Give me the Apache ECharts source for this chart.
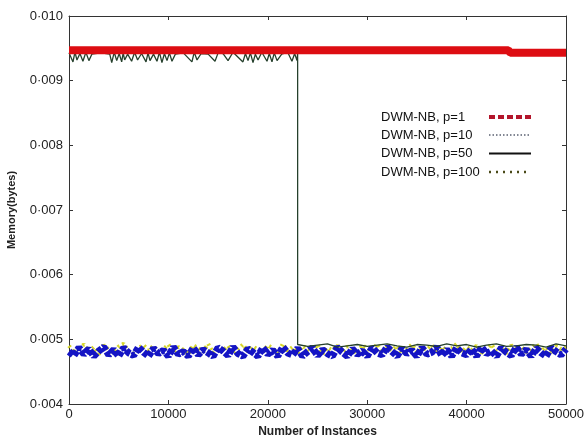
<!DOCTYPE html>
<html>
<head>
<meta charset="utf-8">
<script src="https://cdn.jsdelivr.net/npm/echarts@6/dist/echarts.min.js"></script>
<style>
  html, body { margin: 0; padding: 0; background: #fff; }
  #chart { width: 584px; height: 439px; }
</style>
</head>
<body>
<div id="chart"></div>
<script>
// Memory usage of DWM-NB for several values of p
const seriesNames = ['DWM-NB, p=1', 'DWM-NB, p=10', 'DWM-NB, p=50', 'DWM-NB, p=100'];
const xTicks = [0, 10000, 20000, 30000, 40000, 50000];
const yTicks = [0.004, 0.005, 0.006, 0.007, 0.008, 0.009, 0.010];

// p=1
const p1X = [0, 44200, 44400, 50000];
const p1Y = [0.00947, 0.00947, 0.00943, 0.00943];

// shared sample positions for p=10 and p=100
const gridX = [0,500,1000,1500,2000,2500,3000,3500,4000,4500,
  5000,5500,6000,6500,7000,7500,8000,8500,9000,9500,
  10000,10500,11000,11500,12000,12500,13000,13500,14000,14500,
  15000,15500,16000,16500,17000,17500,18000,18500,19000,19500,
  20000,20500,21000,21500,22000,22500,23000,23500,24000,24500,
  25000,25500,26000,26500,27000,27500,28000,28500,29000,29500,
  30000,30500,31000,31500,32000,32500,33000,33500,34000,34500,
  35000,35500,36000,36500,37000,37500,38000,38500,39000,39500,
  40000,40500,41000,41500,42000,42500,43000,43500,44000,44500,
  45000,45500,46000,46500,47000,47500,48000,48500,49000,49500,
  50000];

// p=10
const p10Y = [0.00481,0.00475,0.00487,0.00477,0.00485,0.00474,0.00482,0.00488,0.00476,0.00484,
  0.00474,0.00487,0.00479,0.00475,0.00488,0.00480,0.00474,0.00486,0.00478,0.00483,
  0.00474,0.00488,0.00477,0.00481,0.00474,0.00487,0.00476,0.00484,0.00479,0.00474,
  0.00487,0.00482,0.00475,0.00488,0.00478,0.00474,0.00485,0.00480,0.00474,0.00487,
  0.00477,0.00483,0.00474,0.00488,0.00479,0.00476,0.00486,0.00474,0.00481,0.00487,
  0.00475,0.00484,0.00478,0.00474,0.00488,0.00480,0.00474,0.00485,0.00477,0.00482,
  0.00474,0.00487,0.00479,0.00476,0.00488,0.00481,0.00474,0.00486,0.00478,0.00483,
  0.00474,0.00487,0.00477,0.00480,0.00488,0.00475,0.00484,0.00474,0.00487,0.00479,
  0.00476,0.00485,0.00474,0.00488,0.00478,0.00482,0.00474,0.00487,0.00480,0.00475,
  0.00488,0.00477,0.00484,0.00474,0.00486,0.00479,0.00474,0.00487,0.00481,0.00476,
  0.00485];

// p=100
const p100Y = [0.00490,0.00479,0.00486,0.00492,0.00481,0.00488,0.00477,0.00491,0.00484,0.00480,
  0.00489,0.00493,0.00482,0.00478,0.00487,0.00491,0.00483,0.00490,0.00479,0.00485,
  0.00492,0.00480,0.00488,0.00484,0.00477,0.00491,0.00486,0.00481,0.00493,0.00479,
  0.00487,0.00483,0.00490,0.00478,0.00485,0.00492,0.00481,0.00489,0.00484,0.00480,
  0.00491,0.00486,0.00478,0.00493,0.00482,0.00488,0.00479,0.00490,0.00485,0.00481,
  0.00492,0.00477,0.00487,0.00483,0.00490,0.00480,0.00489,0.00484,0.00478,0.00491,
  0.00486,0.00482,0.00493,0.00479,0.00488,0.00483,0.00490,0.00477,0.00485,0.00492,
  0.00481,0.00487,0.00484,0.00491,0.00478,0.00489,0.00482,0.00486,0.00493,0.00480,
  0.00488,0.00483,0.00490,0.00479,0.00485,0.00492,0.00481,0.00487,0.00478,0.00491,
  0.00484,0.00489,0.00480,0.00486,0.00493,0.00482,0.00488,0.00479,0.00490,0.00485,
  0.00487];

// p=50, before the drop
const p50EarlyX = [0,200,400,600,800,1100,1400,1700,2000,2300,
  3200,4100,4300,4550,4800,5050,5300,5450,5600,5900,
  6300,6600,6900,7300,7750,7950,8150,8500,8850,9100,
  9350,9600,9860,10100,10360,10700,11500,12370,12600,12880,
  13300,14000,14690,15000,15500,16000,16500,17500,17750,18010,
  18250,18510,18750,19020,19400,19920,20150,20420,20650,20930,
  21400,22000,22430,22700,22940,23000];
const p50EarlyY = [0.00943,0.00941,0.00929,0.00944,0.00932,0.00942,0.00930,0.00944,0.00931,0.00941,
  0.00943,0.00941,0.00928,0.00944,0.00931,0.00942,0.00929,0.00943,0.00932,0.00941,
  0.00930,0.00944,0.00932,0.00942,0.00929,0.00943,0.00931,0.00941,0.00930,0.00944,
  0.00928,0.00942,0.00931,0.00943,0.00930,0.00941,0.00943,0.00929,0.00944,0.00932,
  0.00942,0.00941,0.00930,0.00943,0.00942,0.00931,0.00944,0.00929,0.00942,0.00931,
  0.00943,0.00928,0.00941,0.00932,0.00944,0.00930,0.00942,0.00929,0.00943,0.00931,
  0.00941,0.00944,0.00930,0.00942,0.00931,0.00942];
// p=50, after the drop
const p50LateX = [23000,24000,25000,26000,27000,28000,29000,30000,31000,32000,
  33000,34000,35000,36000,37000,38000,39000,40000,41000,42000,
  43000,44000,45000,46000,47000,48000,49000,50000];
const p50LateY = [0.00492,0.00489,0.00491,0.00493,0.00488,0.00490,0.00492,0.00489,0.00491,0.00493,
  0.00490,0.00488,0.00492,0.00491,0.00489,0.00493,0.00490,0.00492,0.00488,0.00491,
  0.00493,0.00489,0.00490,0.00492,0.00491,0.00488,0.00493,0.00490];

const pairs = (xs, ys) => xs.map((x, i) => [x, ys[i]]);
const p50X = p50EarlyX.concat(p50LateX);
const p50Y = p50EarlyY.concat(p50LateY);

const FONT = 'Liberation Sans, Arial, sans-serif';
const fmtY = v => v.toFixed(3).replace('.', '\u00b7');

// legend drawn as text + sample line, text left-aligned, samples in one column
const legendKeys = [
  { stroke: '#b3152b', lineWidth: 4, lineDash: [6, 3] },
  { stroke: '#5a6070', lineWidth: 1.5, lineDash: [1.5, 2] },
  { stroke: '#111111', lineWidth: 2, lineDash: null },
  { stroke: '#4a4a18', lineWidth: 2.5, lineDash: [2, 5] }
];
const legendRows = [117, 135, 153.5, 172];
const legendGraphics = [];
seriesNames.forEach((name, i) => {
  legendGraphics.push({
    type: 'text', x: 381, y: legendRows[i],
    style: { text: name, font: '13px ' + FONT, fill: '#111', textVerticalAlign: 'middle', textAlign: 'left' }
  });
  legendGraphics.push({
    type: 'line', x: 0, y: 0,
    shape: { x1: 489, y1: legendRows[i], x2: 531, y2: legendRows[i] },
    style: legendKeys[i]
  });
});

const chart = echarts.init(document.getElementById('chart'), null, { renderer: 'canvas' });
chart.setOption({
  animation: false,
  backgroundColor: '#ffffff',
  grid: { left: 69, right: 18, top: 16, bottom: 35, containLabel: false, outerBoundsMode: 'none' },
  xAxis: [{
    type: 'value', min: xTicks[0], max: xTicks[xTicks.length - 1], interval: 10000,
    name: 'Number of Instances', nameLocation: 'middle', nameGap: 18,
    nameTextStyle: { fontFamily: FONT, fontSize: 12, fontWeight: 'bold', color: '#222' },
    axisLine: { show: true, onZero: false, lineStyle: { color: '#333', width: 1 } },
    axisTick: { show: true, inside: true, length: 4, lineStyle: { color: '#333' } },
    axisLabel: { fontFamily: FONT, fontSize: 13, color: '#222', margin: 4, formatter: v => String(v) },
    splitLine: { show: false }
  }, {
    type: 'value', position: 'top', min: 0, max: 50000, interval: 10000,
    axisLine: { show: true, onZero: false, lineStyle: { color: '#333', width: 1 } },
    axisTick: { show: true, inside: true, length: 4, lineStyle: { color: '#333' } },
    axisLabel: { show: false }, splitLine: { show: false }
  }],
  yAxis: [{
    type: 'value', min: yTicks[0], max: yTicks[yTicks.length - 1], interval: 0.001,
    name: 'Memory(bytes)', nameLocation: 'middle', nameGap: 52, nameRotate: 90,
    nameTextStyle: { fontFamily: FONT, fontSize: 11, fontWeight: 'bold', color: '#222' },
    axisLine: { show: true, onZero: false, lineStyle: { color: '#333', width: 1 } },
    axisTick: { show: true, inside: true, length: 4, lineStyle: { color: '#333' } },
    axisLabel: { fontFamily: FONT, fontSize: 13, color: '#222', margin: 6, formatter: fmtY },
    splitLine: { show: false }
  }, {
    type: 'value', position: 'right', min: 0.004, max: 0.010, interval: 0.001,
    axisLine: { show: true, onZero: false, lineStyle: { color: '#333', width: 1 } },
    axisTick: { show: true, inside: true, length: 4, lineStyle: { color: '#333' } },
    axisLabel: { show: false }, splitLine: { show: false }
  }],
  graphic: legendGraphics,
  series: [
    {
      name: seriesNames[0], type: 'line', z: 6, data: pairs(p1X, p1Y),
      showSymbol: false, symbol: 'none',
      lineStyle: { color: '#dd0d12', width: 8 }
    },
    {
      name: seriesNames[1], type: 'line', z: 4, data: pairs(gridX, p10Y),
      showSymbol: false, symbol: 'none',
      lineStyle: { color: '#1414c4', width: 7, type: [5, 1.5] }
    },
    {
      name: seriesNames[2], type: 'line', z: 5, data: pairs(p50X, p50Y),
      showSymbol: false, symbol: 'none',
      lineStyle: { color: '#25402c', width: 1.3 }
    },
    {
      name: seriesNames[3], type: 'line', z: 3, data: pairs(gridX, p100Y),
      showSymbol: false, symbol: 'none',
      lineStyle: { color: '#d6d62a', width: 4, type: [2, 3] }
    }
  ]
});
</script>
</body>
</html>
